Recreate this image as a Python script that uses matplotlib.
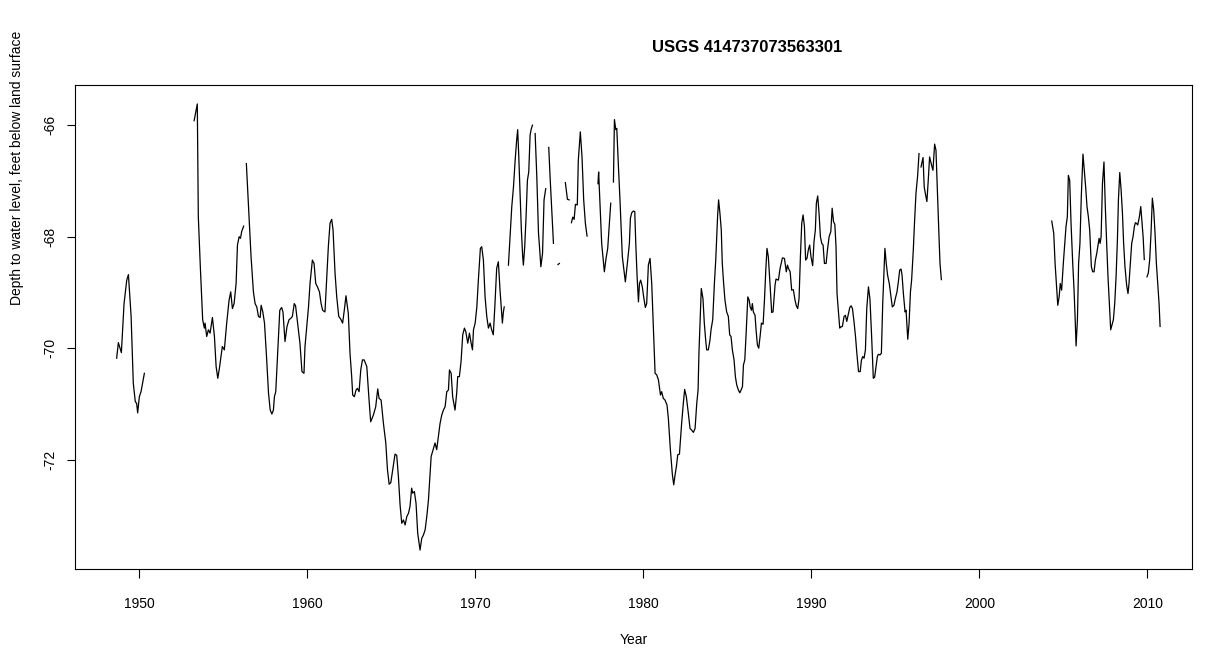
import numpy as np
import matplotlib
matplotlib.use('Agg')
import matplotlib.pyplot as plt

plt.rcParams['font.family'] = ['Liberation Sans', 'DejaVu Sans']

title = 'USGS 414737073563301'
xlabel = 'Year'
ylabel = 'Depth to water level, feet below land surface'
xticks = [1950, 1960, 1970, 1980, 1990, 2000, 2010]
yticks = [-66, -68, -70, -72]

# each segment is a run of measurements; gaps between segments are not joined
seg_years = [
    [1948.65, 1948.75, 1948.93, 1949.09, 1949.25, 1949.35, 1949.51, 1949.64, 1949.76,
     1949.84, 1949.90, 1950.00, 1950.10, 1950.30],
    [1953.26, 1953.45, 1953.51, 1953.63, 1953.77, 1953.87, 1953.91, 1954.01, 1954.11,
     1954.21, 1954.35, 1954.47, 1954.57, 1954.67, 1954.78, 1954.94, 1955.06, 1955.20,
     1955.34, 1955.44, 1955.54, 1955.64, 1955.76, 1955.84, 1955.94, 1956.02, 1956.09,
     1956.21],
    [1956.37, 1956.53, 1956.65, 1956.79, 1956.89, 1956.99, 1957.09, 1957.19, 1957.25,
     1957.35, 1957.45, 1957.57, 1957.69, 1957.79, 1957.89, 1957.98, 1958.04, 1958.12,
     1958.24, 1958.36, 1958.47, 1958.55, 1958.67, 1958.79, 1958.91, 1959.03, 1959.11,
     1959.22, 1959.30, 1959.42, 1959.56, 1959.68, 1959.80, 1959.86, 1959.93, 1960.07,
     1960.16, 1960.30, 1960.40, 1960.50, 1960.60, 1960.72, 1960.82, 1960.91, 1961.05,
     1961.15, 1961.25, 1961.35, 1961.45, 1961.53, 1961.65, 1961.75, 1961.87, 1961.99,
     1962.10, 1962.20, 1962.30, 1962.44, 1962.54, 1962.64, 1962.70, 1962.80, 1962.90,
     1962.98, 1963.08, 1963.18, 1963.28, 1963.38, 1963.54, 1963.66, 1963.77, 1963.93,
     1964.07, 1964.19, 1964.27, 1964.39, 1964.53, 1964.67, 1964.77, 1964.87, 1964.97,
     1965.08, 1965.22, 1965.32, 1965.42, 1965.52, 1965.62, 1965.72, 1965.82, 1965.92,
     1966.02, 1966.11, 1966.21, 1966.27, 1966.37, 1966.47, 1966.57, 1966.71, 1966.81,
     1966.91, 1967.01, 1967.11, 1967.21, 1967.37, 1967.46, 1967.60, 1967.70, 1967.80,
     1967.90, 1968.00, 1968.10, 1968.20, 1968.30, 1968.40, 1968.46, 1968.56, 1968.65,
     1968.79, 1968.89, 1968.95, 1969.05, 1969.15, 1969.25, 1969.35, 1969.43, 1969.55,
     1969.65, 1969.75, 1969.83, 1969.89, 1969.99, 1970.09, 1970.18, 1970.30, 1970.38,
     1970.48, 1970.58, 1970.68, 1970.78, 1970.88, 1970.97, 1971.07, 1971.17, 1971.27,
     1971.37, 1971.47, 1971.61, 1971.67, 1971.72],
    [1971.97, 1972.07, 1972.17, 1972.27, 1972.37, 1972.46, 1972.52, 1972.58, 1972.66,
     1972.74, 1972.82, 1972.86, 1972.94, 1973.02, 1973.10, 1973.18, 1973.26, 1973.32,
     1973.40],
    [1973.56, 1973.66, 1973.76, 1973.82, 1973.90, 1974.00, 1974.09, 1974.19],
    [1974.37, 1974.45, 1974.55, 1974.65],
    [1974.92, 1975.00],
    [1975.36, 1975.48, 1975.58],
    [1975.72, 1975.80, 1975.88, 1975.96, 1976.07, 1976.13, 1976.25, 1976.35, 1976.45,
     1976.55, 1976.65],
    [1977.30, 1977.34, 1977.40, 1977.52, 1977.68, 1977.78, 1977.88, 1977.98, 1978.06],
    [1978.22, 1978.28, 1978.36, 1978.42, 1978.51, 1978.61, 1978.75, 1978.93, 1979.07,
     1979.17, 1979.23, 1979.31, 1979.41, 1979.49, 1979.55, 1979.63, 1979.71, 1979.77,
     1979.84, 1979.94, 1980.02, 1980.12, 1980.20, 1980.30, 1980.40, 1980.50, 1980.60,
     1980.70, 1980.80, 1980.90, 1981.02, 1981.09, 1981.19, 1981.29, 1981.41, 1981.49,
     1981.61, 1981.73, 1981.81, 1981.89, 1981.97, 1982.05, 1982.15, 1982.28, 1982.38,
     1982.46, 1982.56, 1982.68, 1982.78, 1982.88, 1982.98, 1983.08, 1983.18, 1983.26,
     1983.31, 1983.39, 1983.45, 1983.55, 1983.63, 1983.71, 1983.77, 1983.87, 1983.97,
     1984.03, 1984.13, 1984.23, 1984.31, 1984.37, 1984.42, 1984.48, 1984.56, 1984.64,
     1984.70, 1984.78, 1984.86, 1984.96, 1985.06, 1985.14, 1985.22, 1985.30, 1985.40,
     1985.48, 1985.56, 1985.66, 1985.74, 1985.82, 1985.90, 1985.96, 1986.04, 1986.12,
     1986.22, 1986.30, 1986.36, 1986.44, 1986.49, 1986.55, 1986.65, 1986.71, 1986.79,
     1986.87, 1986.95, 1987.03, 1987.13, 1987.21, 1987.29, 1987.36, 1987.44, 1987.54,
     1987.64, 1987.72, 1987.84, 1987.90, 1988.04, 1988.14, 1988.28, 1988.40, 1988.51,
     1988.58, 1988.64, 1988.74, 1988.83, 1988.93, 1989.03, 1989.11, 1989.19, 1989.27,
     1989.35, 1989.43, 1989.51, 1989.59, 1989.66, 1989.74, 1989.82, 1989.90, 1989.98,
     1990.08, 1990.16, 1990.24, 1990.30, 1990.38, 1990.46, 1990.54, 1990.62, 1990.70,
     1990.78, 1990.88, 1990.96, 1991.06, 1991.16, 1991.24, 1991.32, 1991.40, 1991.47,
     1991.53, 1991.61, 1991.69, 1991.75, 1991.85, 1991.95, 1992.03, 1992.11, 1992.19,
     1992.29, 1992.37, 1992.45, 1992.55, 1992.63, 1992.71, 1992.81, 1992.91, 1992.98,
     1993.06, 1993.14, 1993.22, 1993.30, 1993.40, 1993.49, 1993.59, 1993.69, 1993.77,
     1993.85, 1993.93, 1993.99, 1994.09, 1994.17, 1994.25, 1994.33, 1994.38, 1994.46,
     1994.54, 1994.64, 1994.74, 1994.82, 1994.92, 1995.00, 1995.10, 1995.18, 1995.26,
     1995.34, 1995.40, 1995.48, 1995.58, 1995.64, 1995.74, 1995.82, 1995.90, 1995.97,
     1996.07, 1996.15, 1996.23, 1996.33, 1996.41],
    [1996.53, 1996.65, 1996.72, 1996.82, 1996.88, 1996.96, 1997.04, 1997.16, 1997.24,
     1997.34, 1997.42, 1997.52, 1997.60, 1997.66, 1997.74],
    [2004.31, 2004.43, 2004.51, 2004.61, 2004.67, 2004.75, 2004.82, 2004.90, 2005.00,
     2005.10, 2005.16, 2005.24, 2005.30, 2005.38, 2005.46, 2005.56, 2005.64, 2005.70,
     2005.76, 2005.84, 2005.91, 2005.99, 2006.07, 2006.17, 2006.25, 2006.33, 2006.41,
     2006.49, 2006.57, 2006.67, 2006.75, 2006.83, 2006.91, 2006.99, 2007.07, 2007.13,
     2007.19, 2007.25, 2007.33, 2007.42, 2007.50, 2007.58, 2007.66, 2007.74, 2007.82,
     2007.90, 2007.98, 2008.06, 2008.14, 2008.22, 2008.28, 2008.36, 2008.44, 2008.52,
     2008.59, 2008.67, 2008.77, 2008.85, 2008.91, 2008.99, 2009.07, 2009.15, 2009.23,
     2009.29, 2009.35, 2009.43, 2009.53, 2009.61, 2009.67, 2009.75, 2009.82],
    [2009.98, 2010.06, 2010.14, 2010.22, 2010.30, 2010.38, 2010.46, 2010.54, 2010.62,
     2010.70, 2010.76],
]

seg_depth = [
    [-70.18, -69.90, -70.08, -69.20, -68.78, -68.68, -69.43, -70.63, -70.96,
     -70.99, -71.16, -70.87, -70.78, -70.45],
    [-65.92, -65.62, -67.64, -68.54, -69.49, -69.64, -69.55, -69.79, -69.67,
     -69.73, -69.45, -69.79, -70.33, -70.54, -70.33, -69.97, -70.03, -69.55,
     -69.14, -68.99, -69.29, -69.20, -68.84, -68.15, -68.00, -68.03, -67.91,
     -67.81],
    [-66.69, -67.64, -68.36, -68.99, -69.20, -69.26, -69.43, -69.45, -69.23,
     -69.35, -69.55, -70.15, -70.81, -71.11, -71.18, -71.11, -70.87, -70.78,
     -70.03, -69.32, -69.27, -69.35, -69.88, -69.61, -69.49, -69.46, -69.43,
     -69.20, -69.24, -69.55, -69.91, -70.42, -70.45, -69.97, -69.73, -69.26,
     -68.84, -68.42, -68.48, -68.84, -68.90, -68.99, -69.20, -69.32, -69.35,
     -68.78, -68.18, -67.76, -67.69, -67.88, -68.66, -69.08, -69.43, -69.48,
     -69.55, -69.32, -69.06, -69.38, -70.09, -70.51, -70.84, -70.87, -70.75,
     -70.72, -70.78, -70.39, -70.21, -70.21, -70.33, -70.87, -71.32, -71.20,
     -71.05, -70.73, -70.90, -70.93, -71.35, -71.70, -72.18, -72.44, -72.41,
     -72.18, -71.90, -71.92, -72.30, -72.81, -73.14, -73.08, -73.17, -73.02,
     -72.96, -72.84, -72.51, -72.60, -72.57, -72.78, -73.32, -73.62, -73.41,
     -73.35, -73.26, -73.02, -72.72, -71.94, -71.85, -71.70, -71.82, -71.58,
     -71.35, -71.20, -71.11, -71.05, -70.78, -70.75, -70.39, -70.45, -70.87,
     -71.11, -70.81, -70.51, -70.51, -70.24, -69.76, -69.64, -69.70, -69.91,
     -69.73, -69.91, -70.03, -69.67, -69.55, -69.26, -68.78, -68.21, -68.18,
     -68.42, -69.08, -69.43, -69.64, -69.55, -69.67, -69.76, -69.20, -68.57,
     -68.45, -68.96, -69.55, -69.35, -69.26],
    [-68.51, -68.00, -67.46, -67.11, -66.63, -66.27, -66.08, -66.51, -67.22,
     -67.88, -68.36, -68.51, -68.18, -67.64, -66.99, -66.84, -66.18, -66.08,
     -66.00],
    [-66.15, -66.93, -67.94, -68.18, -68.54, -68.30, -67.34, -67.14],
    [-66.40, -66.93, -67.52, -68.12],
    [-68.50, -68.48],
    [-67.03, -67.33, -67.34],
    [-67.75, -67.65, -67.69, -67.42, -67.43, -66.63, -66.12, -66.57, -67.34,
     -67.76, -67.99],
    [-67.05, -66.84, -67.28, -68.12, -68.63, -68.39, -68.21, -67.76, -67.40],
    [-67.02, -65.90, -66.08, -66.06, -66.69, -67.34, -68.36, -68.81, -68.42,
     -68.12, -67.67, -67.57, -67.54, -67.55, -68.12, -68.72, -69.17, -68.84,
     -68.78, -68.90, -69.08, -69.27, -69.20, -68.51, -68.39, -68.84, -69.67,
     -70.45, -70.48, -70.57, -70.84, -70.78, -70.90, -70.93, -71.02, -71.26,
     -71.82, -72.27, -72.45, -72.27, -72.12, -71.91, -71.90, -71.35, -70.99,
     -70.74, -70.87, -71.17, -71.44, -71.47, -71.51, -71.44, -70.99, -70.75,
     -70.09, -69.43, -68.93, -69.11, -69.55, -69.85, -70.03, -70.03, -69.85,
     -69.67, -69.49, -68.84, -68.42, -68.00, -67.64, -67.34, -67.58, -67.88,
     -68.48, -68.84, -69.14, -69.35, -69.43, -69.76, -69.79, -70.03, -70.21,
     -70.51, -70.66, -70.75, -70.80, -70.75, -70.69, -70.30, -70.21, -69.73,
     -69.08, -69.14, -69.26, -69.32, -69.20, -69.35, -69.41, -69.67, -69.94,
     -70.00, -69.79, -69.55, -69.57, -69.14, -68.60, -68.21, -68.36, -68.84,
     -69.36, -69.35, -68.87, -68.76, -68.78, -68.57, -68.38, -68.39, -68.63,
     -68.51, -68.57, -68.63, -68.96, -68.95, -69.14, -69.24, -69.29, -69.11,
     -68.36, -67.76, -67.61, -67.82, -68.42, -68.39, -68.24, -68.15, -68.36,
     -68.52, -68.09, -67.88, -67.40, -67.27, -67.58, -68.00, -68.12, -68.15,
     -68.48, -68.48, -68.24, -68.00, -67.91, -67.49, -67.73, -67.78, -68.18,
     -69.02, -69.32, -69.64, -69.62, -69.61, -69.43, -69.41, -69.52, -69.41,
     -69.27, -69.24, -69.29, -69.55, -69.79, -70.09, -70.42, -70.42, -70.22,
     -70.15, -70.18, -70.03, -69.29, -68.90, -69.12, -69.79, -70.54, -70.52,
     -70.33, -70.15, -70.11, -70.12, -70.09, -69.20, -68.60, -68.21, -68.48,
     -68.69, -68.84, -69.08, -69.26, -69.23, -69.11, -68.99, -68.81, -68.60,
     -68.58, -68.69, -69.02, -69.35, -69.32, -69.84, -69.55, -68.99, -68.78,
     -68.24, -67.70, -67.22, -66.90, -66.51],
    [-66.75, -66.58, -67.11, -67.28, -67.37, -66.99, -66.57, -66.72, -66.81,
     -66.34, -66.45, -67.34, -68.00, -68.48, -68.77],
    [-67.72, -67.94, -68.48, -68.96, -69.23, -69.08, -68.84, -68.96, -68.48,
     -68.06, -67.82, -67.64, -66.90, -66.99, -67.76, -68.48, -68.96, -69.43,
     -69.96, -69.49, -68.48, -68.12, -67.28, -66.52, -66.81, -67.11, -67.46,
     -67.64, -67.88, -68.54, -68.63, -68.63, -68.42, -68.30, -68.15, -68.03,
     -68.12, -68.00, -67.05, -66.66, -67.46, -68.12, -68.72, -69.20, -69.67,
     -69.58, -69.49, -69.20, -68.72, -68.06, -67.34, -66.85, -67.16, -67.58,
     -68.12, -68.54, -68.87, -69.02, -68.84, -68.48, -68.12, -68.00, -67.82,
     -67.75, -67.76, -67.79, -67.64, -67.46, -67.70, -68.00, -68.41],
    [-68.72, -68.65, -68.42, -67.94, -67.31, -67.52, -67.94, -68.48, -68.84,
     -69.20, -69.61],
]

# join the runs with NaN so the line breaks at the gaps
years = []
depth = []
for yy, dd in zip(seg_years, seg_depth):
    years += yy + [np.nan]
    depth += dd + [np.nan]
years = np.array(years)
depth = np.array(depth)

fig = plt.figure(figsize=(12.05, 6.48), dpi=100)
ax = fig.add_axes([75 / 1205, 1 - 569 / 648, (1192 - 75) / 1205, (569 - 85) / 648])
ax.plot(years, depth, color='black', linewidth=0.9)

ax.set_xlim(1946.17, 2012.66)
ax.set_ylim(-73.96, -65.28)
ax.set_xticks(xticks)
ax.set_xticklabels([str(t) for t in xticks], fontsize=10)
ax.set_yticks(yticks)
ax.set_yticklabels([str(t) for t in yticks], fontsize=10, rotation=90, va='center')
ax.tick_params(axis='x', length=6.5, width=0.8, pad=13.5)
ax.tick_params(axis='y', length=6, width=0.8, pad=6.5)
for s in ax.spines.values():
    s.set_linewidth(0.8)

fig.text(747 / 1205, 1 - 48 / 648, title, ha='center', va='center',
         fontsize=12, fontweight='bold')
fig.text(633.5 / 1205, 1 - 640 / 648, xlabel, ha='center', va='center', fontsize=10)
fig.text(17 / 1205, 1 - 168 / 648, ylabel, ha='center', va='center',
         rotation=90, fontsize=10)

plt.savefig('out.png', dpi=100)
